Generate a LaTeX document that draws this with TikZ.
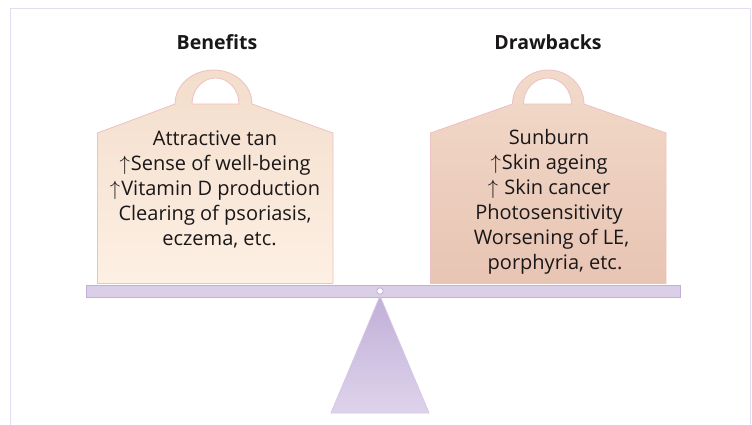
\documentclass[tikz,border=0pt]{standalone}
\usepackage{fontspec}
\setmainfont{Open Sans}
\usetikzlibrary{arrows.meta}
\definecolor{frame}{HTML}{E6DCF0}
\definecolor{wlt}{HTML}{F3DDCB}
\definecolor{wlb}{HTML}{FDF0E4}
\definecolor{wrt}{HTML}{F2DACA}
\definecolor{wrb}{HTML}{E8C4B3}
\definecolor{wstroke}{HTML}{EEC0C2}
\definecolor{beamfill}{HTML}{DBCFE7}
\definecolor{beamstroke}{HTML}{C3AEDB}
\definecolor{tritop}{HTML}{C1AFD8}
\definecolor{tribot}{HTML}{DED3EB}
\definecolor{txt}{HTML}{1A1718}
\tikzset{
  heading/.style={font=\fontsize{19.5}{22}\selectfont\bfseries, text=txt, inner sep=0pt},
  body/.style={font=\fontsize{20}{25}\selectfont, text=txt, align=center, inner sep=0pt},
  hole/.style={fill=white, draw=wstroke, line width=0.8pt},
}
\newcommand{\upar}{$\uparrow$\kern1pt}
\begin{document}
\begin{tikzpicture}[x=1pt,y=-1pt]
\useasboundingbox (0,0) rectangle (752,425);
% frame
\draw[frame, line width=1.5pt] (10.5,425) -- (10.5,8.5) -- (750.5,8.5) -- (750.5,425);
% left weight
\path[draw=wstroke, line width=0.8pt, top color=wlt, bottom color=wlb]
  (97.5,283.5) -- (97.5,133) -- (175,104)
  arc[start angle=180, end angle=360, x radius=38.5, y radius=34] -- (333,133) -- (333,283.5) -- cycle;
\path[hole] (192,104) arc[start angle=180, end angle=360, x radius=23.5, y radius=26] -- cycle;
% right weight
\path[draw=wstroke, line width=0.8pt, top color=wrt, bottom color=wrb]
  (430.5,283.5) -- (430.5,133) -- (512.5,104)
  arc[start angle=180, end angle=360, x radius=35.75, y radius=34] -- (666,133) -- (666,283.5) -- cycle;
\path[hole] (523.5,104) arc[start angle=180, end angle=360, x radius=24, y radius=26] -- cycle;
% beam
\node[draw=beamstroke, fill=beamfill, line width=1pt, minimum width=594pt, minimum height=12pt, inner sep=0pt, anchor=north west] (beam) at (85.5,284.5) {};
% triangle
\coordinate (apex) at (380,296);
\coordinate (bl) at (331,413);
\coordinate (br) at (429,413);
\path[draw=beamstroke!70, line width=0.8pt, top color=tritop, bottom color=tribot] (apex) -- (br) -- (bl) -- cycle;
% pivot
\node[circle, draw=beamstroke, fill=white, line width=0.8pt, minimum size=6.5pt, inner sep=0pt] (pivot) at (380,291) {};
% headings
\node[heading] (hb) at (217,42) {Benefits};
\node[heading] (hd) at (548,42) {Drawbacks};
% texts
\node[body] (tb) at (215,189) {Attractive tan\\ \upar Sense of well-being\\ \upar Vitamin D production\\ Clearing of psoriasis,\\ \hspace*{9pt}eczema, etc.};
\node[body] (td) at (549,202) {Sunburn\\ \upar Skin ageing\\ \upar\ Skin cancer\\ Photosensitivity\\ \hspace*{5pt}Worsening of LE,\\ \hspace*{12pt}porphyria, etc.};
\end{tikzpicture}
\end{document}
